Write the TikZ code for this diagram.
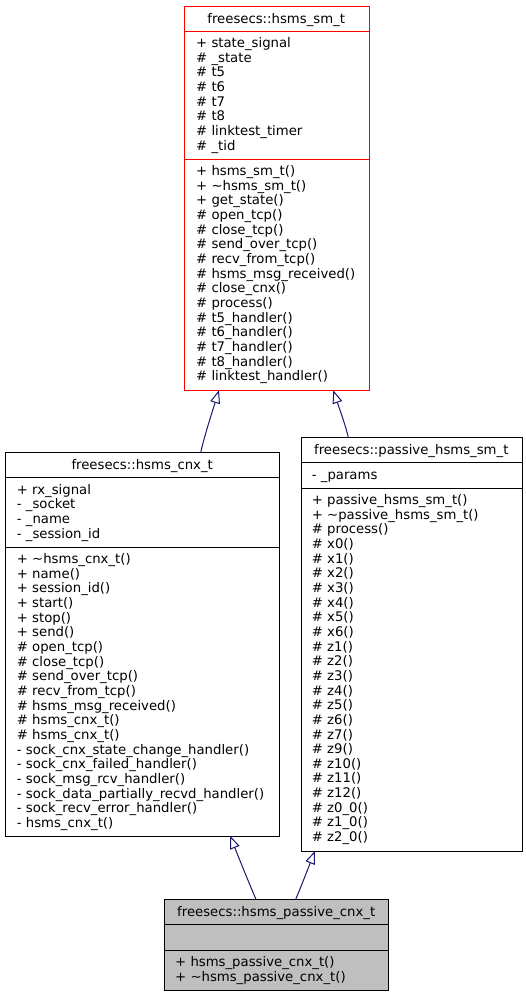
\documentclass[tikz,border=0pt]{standalone}
\usepackage{fontspec}
\setmainfont{DejaVu Sans}
\usetikzlibrary{arrows.meta,bending}
\definecolor{edgeblue}{HTML}{191970}
\definecolor{boxgray}{HTML}{BFBFBF}
\newcommand\memlist[4]{%
  \foreach \t [count=\i] in {#4} {\node[mem] (#1\i) at (#2, {#3+4+14.65*(\i-1)}) {\t};}}
\tikzset{
  mem/.style={anchor=base west, inner sep=0pt, font=\fontsize{13.25}{14.65}\selectfont},
  ttl/.style={anchor=base, inner sep=0pt, font=\fontsize{13.25}{14.65}\selectfont},
  classbox/.style={draw=black, line width=1pt, anchor=north west, inner sep=0pt},
  divider/.style={line width=1pt},
  inherit/.style={draw=edgeblue, line width=1pt, -{Triangle[open, length=13pt, width=10pt, line width=1pt]}}
}
\begin{document}
\begin{tikzpicture}[x=1pt, y=-1pt]
\useasboundingbox (0,0) rectangle (525,995);

% ---- freesecs::hsms_sm_t ----
\node[classbox, draw=red, minimum width=184.5pt, minimum height=384.3pt] (sm) at (184,6) {};
\draw[divider, red] (184,31.7) -- (368.5,31.7);
\draw[divider, red] (184,159.3) -- (368.5,159.3);
\node[ttl] (smtitle) at (276.2,23.3) {freesecs::hsms\_sm\_t};
\memlist{sma}{196}{43.6}{{+ state\_signal},{\# \_state},{\# t5},{\# t6},{\# t7},{\# t8},{\# linktest\_timer},{\# \_tid}}
\memlist{smm}{196}{171.6}{{+ hsms\_sm\_t()},{+ \textasciitilde hsms\_sm\_t()},{+ get\_state()},{\# open\_tcp()},{\# close\_tcp()},{\# send\_over\_tcp()},{\# recv\_from\_tcp()},{\# hsms\_msg\_received()},{\# close\_cnx()},{\# process()},{\# t5\_handler()},{\# t6\_handler()},{\# t7\_handler()},{\# t8\_handler()},{\# linktest\_handler()}}

% ---- freesecs::hsms_cnx_t ----
\node[classbox, minimum width=274.3pt, minimum height=383.4pt] (cnx) at (5,452.3) {};
\draw[divider] (5,477.7) -- (279.3,477.7);
\draw[divider] (5,547.3) -- (279.3,547.3);
\node[ttl] (cnxtitle) at (142.2,469.5) {freesecs::hsms\_cnx\_t};
\memlist{cnxa}{16.7}{490.3}{{+ rx\_signal},{- \_socket},{- \_name},{- \_session\_id}}
\memlist{cnxm}{16.7}{559.6}{{+ \textasciitilde hsms\_cnx\_t()},{+ name()},{+ session\_id()},{+ start()},{+ stop()},{+ send()},{\# open\_tcp()},{\# close\_tcp()},{\# send\_over\_tcp()},{\# recv\_from\_tcp()},{\# hsms\_msg\_received()},{\# hsms\_cnx\_t()},{\# hsms\_cnx\_t()},{- sock\_cnx\_state\_change\_handler()},{- sock\_cnx\_failed\_handler()},{- sock\_msg\_rcv\_handler()},{- sock\_data\_partially\_recvd\_handler()},{- sock\_recv\_error\_handler()},{- hsms\_cnx\_t()}}

% ---- freesecs::passive_hsms_sm_t ----
\node[classbox, minimum width=220.7pt, minimum height=413.7pt] (psm) at (301,437.3) {};
\draw[divider] (301,462.7) -- (521.7,462.7);
\draw[divider] (301,488.3) -- (521.7,488.3);
\node[ttl] (psmtitle) at (411.3,454.5) {freesecs::passive\_hsms\_sm\_t};
\memlist{psma}{311.7}{475.3}{{- \_params}}
\memlist{psmm}{311.7}{500.6}{{+ passive\_hsms\_sm\_t()},{+ \textasciitilde passive\_hsms\_sm\_t()},{\# process()},{\# x0()},{\# x1()},{\# x2()},{\# x3()},{\# x4()},{\# x5()},{\# x6()},{\# z1()},{\# z2()},{\# z3()},{\# z4()},{\# z5()},{\# z6()},{\# z7()},{\# z9()},{\# z10()},{\# z11()},{\# z12()},{\# z0\_0()},{\# z1\_0()},{\# z2\_0()}}

% ---- freesecs::hsms_passive_cnx_t ----
\node[classbox, fill=boxgray, minimum width=224.3pt, minimum height=90.7pt] (pcnx) at (164,899.3) {};
\draw[divider] (164,924.3) -- (388.3,924.3);
\draw[divider] (164,950) -- (388.3,950);
\node[ttl] (pcnxtitle) at (276.2,916.3) {freesecs::hsms\_passive\_cnx\_t};
\memlist{pcnxm}{175}{962.4}{{+ hsms\_passive\_cnx\_t()},{+ \textasciitilde hsms\_passive\_cnx\_t()}}

% ---- inheritance connectors ----
\coordinate (e1t) at (200.7,452.3);  \coordinate (e1h) at (219,390.3);
\coordinate (e2t) at (348.3,437.3);  \coordinate (e2h) at (333.3,390.3);
\coordinate (e3t) at (256,899.3);    \coordinate (e3h) at (230,835.7);
\coordinate (e4t) at (295.7,899.3);  \coordinate (e4h) at (315,851);
\draw[inherit] (e1t) .. controls (205.5,432) and (212.5,411) .. (e1h);
\draw[inherit] (e2t) .. controls (344.5,421.5) and (338.3,406) .. (e2h);
\draw[inherit] (e3t) .. controls (248.5,882) and (238.5,857) .. (e3h);
\draw[inherit] (e4t) .. controls (301,887) and (308.5,867) .. (e4h);
\end{tikzpicture}
\end{document}
